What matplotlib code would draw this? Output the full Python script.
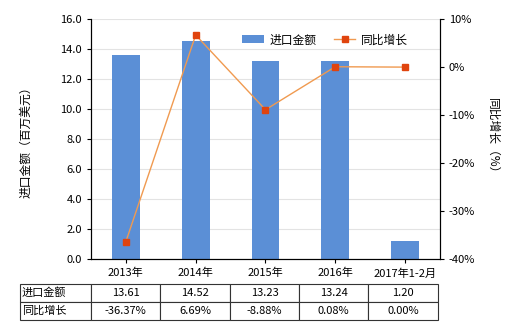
import numpy as np
import matplotlib
matplotlib.use('Agg')
import matplotlib.pyplot as plt

plt.rcParams['font.family'] = ['Noto Sans CJK SC', 'DejaVu Sans']

cats = ['2013年', '2014年', '2015年', '2016年', '2017年1-2月']
amount = [13.61, 14.52, 13.23, 13.24, 1.20]
growth = [-36.37, 6.69, -8.88, 0.08, 0.00]
amount_lbl = ['13.61', '14.52', '13.23', '13.24', '1.20']
growth_lbl = ['-36.37%', '6.69%', '-8.88%', '0.08%', '0.00%']

fig = plt.figure(figsize=(5.2, 3.3), dpi=100)
ax = fig.add_axes([0.175, 0.215, 0.671, 0.727])
x = np.arange(len(cats))

ax.bar(x, amount, width=0.4, color='#5B8FD6', label='进口金额', zorder=2)
ax.set_ylim(0, 16)
ax.set_yticks(np.arange(0, 16.1, 2))
ax.set_yticklabels(['%.1f' % v for v in np.arange(0, 16.1, 2)])
ax.set_xlim(-0.5, 4.5)
ax.set_xticks(x)
ax.set_xticklabels(cats)
ax.grid(axis='y', color='#e3e3e3', linewidth=0.8, zorder=0)
ax.set_ylabel('进口金额（百万美元）', fontsize=8.5, labelpad=20)
ax.tick_params(labelsize=8, length=3)
ax.spines['top'].set_visible(False)

ax2 = ax.twinx()
ax2.plot(x, growth, color='#F09A50', linewidth=1, marker='s', markersize=4,
         markerfacecolor='#E0440E', markeredgecolor='#E0440E', label='同比增长', zorder=3)
ax2.set_ylim(-40, 10)
ax2.set_yticks(np.arange(-40, 11, 10))
ax2.set_yticklabels(['%d%%' % v for v in np.arange(-40, 11, 10)])
ax2.tick_params(labelsize=8, length=3)
ax2.spines['top'].set_visible(False)
ax2.set_ylabel('同比增长（%）', fontsize=8.5, rotation=270, labelpad=17)

h1, l1 = ax.get_legend_handles_labels()
h2, l2 = ax2.get_legend_handles_labels()
ax.legend(h1 + h2, l1 + l2, loc='upper right', bbox_to_anchor=(0.94, 0.985), ncol=2,
          frameon=False, fontsize=8.5, handlelength=1.8, handletextpad=0.5,
          columnspacing=1.5)

cells = [['进口金额'] + amount_lbl, ['同比增长'] + growth_lbl]
tb = ax.table(cellText=cells, bbox=[-0.203, -0.254, 1.197, 0.15],
              colWidths=[71] + [69.4] * 5, cellLoc='center')
tb.auto_set_font_size(False)
tb.set_fontsize(8)
for (r, c), cell in tb.get_celld().items():
    cell.set_edgecolor('#333333')
    cell.set_linewidth(0.8)
    if c == 0:
        cell._loc = 'left'
        cell.PAD = 0.02
        cell.get_text().set_ha('left')

fig.savefig('out.png', dpi=100)
